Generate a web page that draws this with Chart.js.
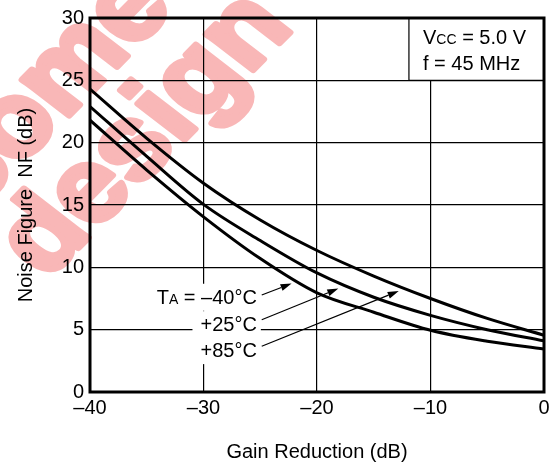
<!DOCTYPE html>
<html>
<head>
<meta charset="utf-8">
<script src="https://cdn.jsdelivr.net/npm/chart.js@4/dist/chart.umd.min.js"></script>
<style>
  html, body { margin: 0; padding: 0; background: #fff; }
  #wrap { width: 554px; height: 466px; }
</style>
</head>
<body>
<div id="wrap"><canvas id="nfChart" width="554" height="466"></canvas></div>
<script>
// --- DATA ---
const gainReduction = [-40, -35, -30, -25, -20, -15, -10, -5, 0];
const nfPlus85  = [24.3, 20.35, 16.75, 13.8, 11.35, 9.3, 7.5, 5.9, 4.55];
const nfPlus25  = [22.9, 18.9, 15.05, 12.15, 9.55, 7.6, 6.15, 5.0, 4.1];
const nfMinus40 = [21.8, 17.8, 14.05, 10.7, 7.95, 6.4, 4.95, 4.07, 3.45];

const xTicks = [-40, -30, -20, -10, 0];
const yTicks = [0, 5, 10, 15, 20, 25, 30];

// curve labels (text right edge in data units) + arrows pointing to the curves
const tempNames = ['\u201340\u00b0C', '+25\u00b0C', '+85\u00b0C'];
const labelX = -25.3;
const labelY = [7.64, 5.44, 3.36];
const arrowTailX = -24.87;
const arrowTailY = [7.78, 5.79, 3.67];
const arrowTipX = [-22.24, -18.12, -12.8];
const arrowTipY = [8.70, 8.30, 8.10];

// condition box, top right
const condBoxLeft = -11.9;
const condBoxBottom = 25;
const condTextX = -10.66;
const condTextY = [28.5, 26.4];

const FONT = 'Liberation Sans, Arial, Helvetica, sans-serif';

function toPoints(xs, ys) {
    return xs.map((x, i) => ({ x: x, y: ys[i] }));
}

// text made of parts with different sizes (for subscripts)
function partsWidth(ctx, parts) {
    let w = 0;
    parts.forEach(p => { ctx.font = p.s + 'px ' + FONT; w += ctx.measureText(p.t).width; });
    return w;
}
function drawParts(ctx, parts, x, y) {
    ctx.textBaseline = 'alphabetic';
    ctx.textAlign = 'left';
    parts.forEach(p => {
        ctx.font = p.s + 'px ' + FONT;
        ctx.fillText(p.t, x, y);
        x += ctx.measureText(p.t).width;
    });
}

const overlay = {
    id: 'overlay',
    beforeDraw(chart) {
        // pink watermark, under everything else
        const ctx = chart.ctx;
        ctx.save();
        ctx.fillStyle = '#f9b7b7';
        ctx.strokeStyle = '#f9b7b7';
        ctx.lineWidth = 6;
        ctx.lineJoin = 'round';
        ctx.font = 'bold 104px ' + FONT;
        ctx.textBaseline = 'alphabetic';
        ctx.textAlign = 'left';
        ctx.translate(46.5, 280.5);
        ctx.scale(1.13, 1);
        ctx.rotate(-49 * Math.PI / 180);
        ['design', 'come'].forEach((t, i) => {
            const x = i === 0 ? 0 : 9, y = i === 0 ? 0 : -93;
            ctx.fillText(t, x, y);
            ctx.strokeText(t, x, y);
        });
        ctx.restore();
    },
    afterDatasetsDraw(chart) {
        const ctx = chart.ctx;
        const xs = chart.scales.x, ys = chart.scales.y;
        const area = chart.chartArea;
        ctx.save();
        ctx.fillStyle = '#000';
        ctx.strokeStyle = '#000';

        // curve labels
        for (let i = 0; i < tempNames.length; i++) {
            const parts = i === 0
                ? [{ t: 'T', s: 20 }, { t: 'A', s: 14 }, { t: ' = ' + tempNames[i], s: 20 }]
                : [{ t: tempNames[i], s: 20 }];
            const w = partsWidth(ctx, parts);
            const right = xs.getPixelForValue(labelX);
            const cy = ys.getPixelForValue(labelY[i]);
            ctx.fillStyle = '#fff';
            ctx.fillRect(right - w - 8, cy - 13, w + 12, 27);
            ctx.fillStyle = '#000';
            drawParts(ctx, parts, right - w, cy + 7);
        }

        // arrows
        for (let i = 0; i < arrowTipX.length; i++) {
            const x0 = xs.getPixelForValue(arrowTailX), y0 = ys.getPixelForValue(arrowTailY[i]);
            const x1 = xs.getPixelForValue(arrowTipX[i]), y1 = ys.getPixelForValue(arrowTipY[i]);
            const ang = Math.atan2(y1 - y0, x1 - x0);
            const len = 11, hw = 3.5;
            const bx = x1 - len * Math.cos(ang), by = y1 - len * Math.sin(ang);
            ctx.lineWidth = 1.2;
            ctx.beginPath();
            ctx.moveTo(x0, y0);
            ctx.lineTo(bx, by);
            ctx.stroke();
            ctx.beginPath();
            ctx.moveTo(x1, y1);
            ctx.lineTo(bx + hw * Math.sin(ang), by - hw * Math.cos(ang));
            ctx.lineTo(bx - hw * Math.sin(ang), by + hw * Math.cos(ang));
            ctx.closePath();
            ctx.fill();
        }

        // condition box
        const bl = xs.getPixelForValue(condBoxLeft);
        const bb = ys.getPixelForValue(condBoxBottom);
        ctx.fillStyle = '#fff';
        ctx.fillRect(bl, area.top, area.right - bl, bb - area.top);
        ctx.lineWidth = 1.2;
        ctx.beginPath();
        ctx.moveTo(bl, area.top);
        ctx.lineTo(bl, bb);
        ctx.lineTo(area.right, bb);
        ctx.stroke();
        ctx.fillStyle = '#000';
        const tx = xs.getPixelForValue(condTextX);
        drawParts(ctx, [{ t: 'V', s: 20 }, { t: 'CC', s: 14 }, { t: ' = 5.0 V', s: 20 }], tx, ys.getPixelForValue(condTextY[0]) + 7);
        drawParts(ctx, [{ t: 'f = 45 MHz', s: 20 }], tx, ys.getPixelForValue(condTextY[1]) + 7);

        // heavy frame
        ctx.lineWidth = 3;
        ctx.strokeRect(area.left, area.top, area.right - area.left, area.bottom - area.top);
        ctx.restore();
    }
};

const curveStyle = {
    borderColor: '#000',
    borderWidth: 3,
    pointRadius: 0,
    fill: false,
    cubicInterpolationMode: 'monotone'
};

const ctxNF = document.getElementById('nfChart').getContext('2d');
const nfChart = new Chart(ctxNF, {
    type: 'line',
    data: {
        datasets: [
            Object.assign({ label: '+85\u00b0C', data: toPoints(gainReduction, nfPlus85) }, curveStyle),
            Object.assign({ label: '+25\u00b0C', data: toPoints(gainReduction, nfPlus25) }, curveStyle),
            Object.assign({ label: '\u221240\u00b0C', data: toPoints(gainReduction, nfMinus40) }, curveStyle)
        ]
    },
    options: {
        responsive: false,
        animation: false,
        devicePixelRatio: 1,
        layout: { padding: { top: 14, right: 10, left: 0, bottom: 0 } },
        plugins: { legend: { display: false }, tooltip: { enabled: false } },
        scales: {
            x: {
                type: 'linear',
                min: -40,
                max: 0,
                afterBuildTicks: s => { s.ticks = xTicks.map(v => ({ value: v })); },
                afterFit: s => { s.height = 74; },
                grid: { color: '#000', lineWidth: 1.2, drawTicks: false },
                border: { display: false },
                ticks: {
                    color: '#000',
                    padding: 4,
                    font: { family: FONT, size: 20 },
                    callback: v => v < 0 ? '\u2013' + Math.abs(v) : String(v)
                },
                title: {
                    display: true,
                    text: 'Gain Reduction (dB)',
                    color: '#000',
                    font: { family: FONT, size: 20 },
                    padding: { top: 0, bottom: 2 }
                }
            },
            y: {
                min: 0,
                max: 30,
                afterBuildTicks: s => { s.ticks = yTicks.map(v => ({ value: v })); },
                afterFit: s => { s.width = 90; },
                grid: { color: '#000', lineWidth: 1.2, drawTicks: false },
                border: { display: false },
                ticks: {
                    color: '#000',
                    padding: 6,
                    font: { family: FONT, size: 20 }
                },
                title: {
                    display: true,
                    text: 'Noise Figure  NF (dB)',
                    color: '#000',
                    font: { family: FONT, size: 20 },
                    padding: { top: 14, bottom: 0 }
                }
            }
        }
    },
    plugins: [overlay]
});
</script>
</body>
</html>
